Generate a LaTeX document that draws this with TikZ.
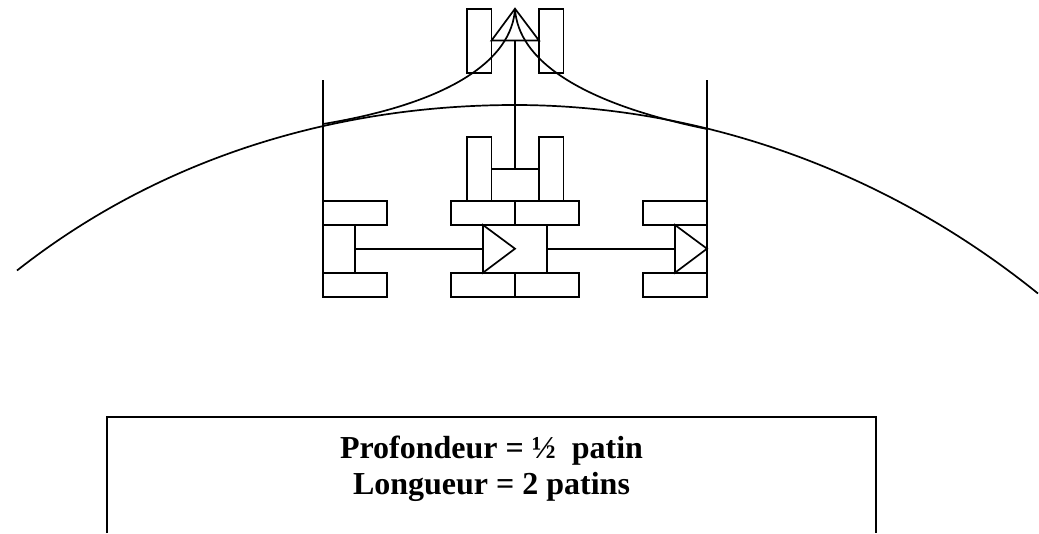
\documentclass[tikz,border=0pt]{standalone}
\usepackage{fontspec}
\setmainfont{Liberation Serif}
\tikzset{
  ln/.style={draw=black,line width=1.7pt},
  pad/.style={ln,rectangle,inner sep=0pt,outer sep=0pt,anchor=north west,minimum width=#1},
  hpad/.style={pad=64pt,minimum height=24pt},
  vpad/.style={pad=24.5pt,minimum height=64pt},
  lbl/.style={font=\bfseries\fontsize{32}{38}\selectfont,inner sep=0pt,anchor=base,text=black}
}
\begin{document}
\begin{tikzpicture}[x=1pt,y=-1pt]
\useasboundingbox (0,0) rectangle (1039,533);
\fill[white] (0,0) rectangle (1039,533);
% top pads
\node[vpad] (t1) at (467,8.7) {};
\node[vpad] (t2) at (539,8.7) {};
% middle pads
\node[vpad] (m1) at (467,136.7) {};
\node[vpad] (m2) at (539,136.7) {};
% rows
\node[hpad] (a1) at (323,201) {};
\node[hpad] (a2) at (451,201) {};
\node[hpad] (a3) at (515,201) {};
\node[hpad] (a4) at (643,201) {};
\node[hpad] (b1) at (323,272.7) {};
\node[hpad] (b2) at (451,272.7) {};
\node[hpad] (b3) at (515,272.7) {};
\node[hpad] (b4) at (643,272.7) {};
% named points
\coordinate (apex) at (515,8.7);
\coordinate (tl) at (491.5,40.5);
\coordinate (tr) at (539,40.5);
\coordinate (tm) at (515,40.5);
\coordinate (mm) at (515,168.7);
\coordinate (ml) at (491.5,168.7);
\coordinate (mr) at (539,168.7);
\coordinate (wl) at (323,80);
\coordinate (wr) at (707,80);
\coordinate (wlb) at (323,296.7);
\coordinate (wrb) at (707,296.7);
\coordinate (eL) at (17,270.5);
\coordinate (eT) at (515,105);
\coordinate (eR) at (1038,293.5);
\coordinate (cl) at (323,124);
\coordinate (cr) at (707,129);
% walls
\draw[ln] (wl) -- (wlb);
\draw[ln] (wr) -- (wrb);
% big arc
\draw[ln] (eL) .. controls (170,150) and (350,105) .. (eT) .. controls (680,105) and (870,158) .. (eR);
% roof curves
\draw[ln] (apex) .. controls (512,60) and (450,103) .. (cl);
\draw[ln] (apex) .. controls (518,60) and (580,103) .. (cr);
% top triangle and mast
\draw[ln,line join=miter] (tl) -- (apex) -- (tr) -- cycle;
\draw[ln] (tm) -- (mm);
\draw[ln] (ml) -- (mr);
% lower assemblies
\coordinate (v1t) at (355,225);
\coordinate (v1b) at (355,272.7);
\coordinate (v1m) at (355,248.7);
\coordinate (p1t) at (483,225);
\coordinate (p1b) at (483,272.7);
\coordinate (p1m) at (483,248.7);
\coordinate (p1a) at (515,248.7);
\coordinate (v2t) at (547,225);
\coordinate (v2b) at (547,272.7);
\coordinate (v2m) at (547,248.7);
\coordinate (p2t) at (675,225);
\coordinate (p2b) at (675,272.7);
\coordinate (p2m) at (675,248.7);
\coordinate (p2a) at (707,248.7);
\draw[ln] (v1t) -- (v1b);
\draw[ln] (v1m) -- (p1m);
\draw[ln] (p1t) -- (p1a) -- (p1b) -- cycle;
\draw[ln] (v2t) -- (v2b);
\draw[ln] (v2m) -- (p2m);
\draw[ln] (p2t) -- (p2a) -- (p2b) -- cycle;
% text box
\coordinate (bl) at (107,533);
\coordinate (btl) at (107,417);
\coordinate (btr) at (876,417);
\coordinate (br) at (876,533);
\draw[ln] (bl) -- (btl) -- (btr) -- (br);
\node[lbl] (txt1) at (491.5,458) {Profondeur = ½\ \ patin};
\node[lbl] (txt2) at (491.5,494) {Longueur = 2 patins};
\end{tikzpicture}
\end{document}
